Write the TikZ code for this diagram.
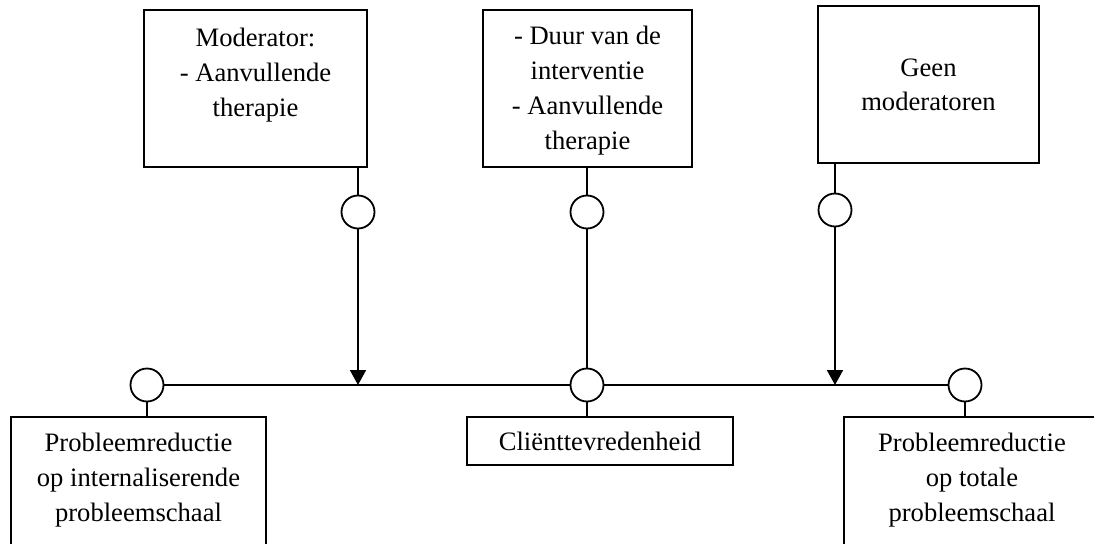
\documentclass[tikz,border=0pt]{standalone}
\usepackage{fontspec}
\setmainfont{Liberation Serif}
\usetikzlibrary{arrows.meta,positioning}

\begin{document}
\begin{tikzpicture}[x=0.5pt, y=0.5pt,
		boxframe/.style={rectangle, draw, line width=0.9pt, inner sep=0pt},
		boxtext/.style={align=center, inner sep=0pt, font=\fontsize{13.3}{17.4}\selectfont},
		joint/.style={circle, draw, line width=0.9pt, minimum size=16.5pt, inner sep=0pt},
		link/.style={line width=0.9pt},
		effect/.style={line width=0.9pt, -{Triangle[width=8pt,length=7.5pt]}}
		]
		\clip (0,0) rectangle (1094,543);
		
		% Moderator boxes on top
		\node[boxframe, minimum width=111.5pt, minimum height=78.5pt] (mod1) at (255.5,454.5) {};
		\node[boxframe, minimum width=104.5pt, minimum height=78.5pt] (mod2) at (587.5,454.5) {};
		\node[boxframe, minimum width=110.5pt, minimum height=78.5pt] (mod3) at (928.5,458.5) {};
		\node[boxtext, anchor=north, yshift=-9.5pt] (mod1text) at (mod1.north) {Moderator:\\- Aanvullende\\therapie};
		\node[boxtext, anchor=north, yshift=-8.5pt] (mod2text) at (mod2.north) {- Duur van de\\interventie\\- Aanvullende\\therapie};
		\node[boxtext, anchor=north, yshift=-26.5pt] (mod3text) at (mod3.north) {Geen\\moderatoren};
		
		% Outcome boxes at the bottom (open below the picture edge)
		\node[boxframe, minimum width=127.5pt, minimum height=80pt] (res1) at (138.5,46) {};
		\node[boxframe, boxtext, minimum width=133pt, minimum height=24pt] (res2) at (600,102) {Cliënttevredenheid};
		\node[boxframe, minimum width=128pt, minimum height=80pt] (res3) at (972,46) {};
		\node[boxtext, anchor=north, yshift=-8.5pt] (res1text) at (res1.north) {Probleemreductie\\op internaliserende\\probleemschaal};
		\node[boxtext, anchor=north, yshift=-8.5pt] (res3text) at (res3.north) {Probleemreductie\\op totale\\probleemschaal};
		
		% Joints
		\node[joint] (c1) at (358,331) {};
		\node[joint] (c2) at (587,331) {};
		\node[joint] (c3) at (835,333) {};
		\node[joint] (cl) at (147,158) {};
		\node[joint] (cm) at (587,158) {};
		\node[joint] (cr) at (965,158) {};
		
		% Connectors
		\draw[link] (cl) -- (cm) -- (cr);
		\draw[link] (mod1.south -| c1) -- (c1);
		\draw[effect] (c1) -- (c1 |- cm);
		\draw[link] (mod2.south -| c2) -- (c2);
		\draw[link] (c2) -- (cm);
		\draw[link] (mod3.south -| c3) -- (c3);
		\draw[effect] (c3) -- (c3 |- cm);
		\draw[link] (cl) -- (cl |- res1.north);
		\draw[link] (cm) -- (cm |- res2.north);
		\draw[link] (cr) -- (cr |- res3.north);
	\end{tikzpicture}
\end{document}
